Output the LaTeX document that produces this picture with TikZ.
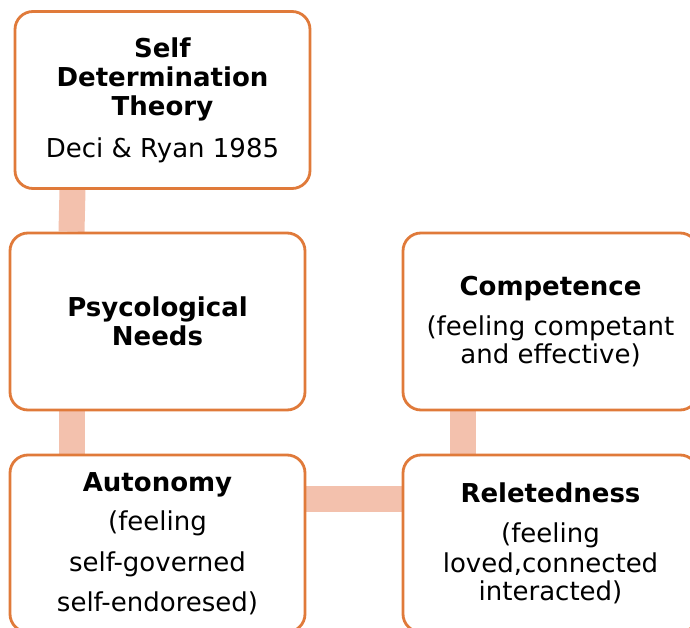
\documentclass[tikz,border=0pt]{standalone}
\usepackage{fontspec}
\setmainfont{DejaVu Sans}
\usetikzlibrary{backgrounds}

\definecolor{boxorange}{RGB}{224,122,58}
\definecolor{linkpeach}{RGB}{243,193,173}

\tikzset{
	box/.style={draw=boxorange, fill=white, line width=2.8pt, rounded corners=18pt,
		minimum width=295pt, minimum height=177pt, inner sep=0pt, align=center,
		font=\fontsize{26}{29}\selectfont},
	link/.style={draw=linkpeach, line width=26pt}
}

\begin{document}
\begin{tikzpicture}[x=1pt,y=-1pt]
	\useasboundingbox (0,0) rectangle (690,628);
	\clip (0,0) rectangle (690,628);

	% Draw boxes
	% Theory
	\node[box] (theory) at (162.5,100) {\textbf{Self}\\\textbf{Determination}\\\textbf{Theory}\\[13pt]Deci \& Ryan 1985};
	% Needs
	\node[box] (needs) at (157.5,321.5) {\textbf{Psycological}\\\textbf{Needs}};
	% Competence
	\node[box] (competence) at (550.5,321.5) {\textbf{Competence}\\[11pt](feeling competant\\[-1pt]and effective)};
	% Autonomy
	\node[box] (autonomy) at (157.5,543.5) {\textbf{Autonomy}\\[10pt](feeling\\[12pt]self-governed\\[11pt]self-endoresed)};
	% Reletedness
	\node[box] (relatedness) at (550.5,543.5) {\textbf{Reletedness}\\[11pt](feeling\\[1pt]loved,connected\\[-1pt]interacted)};

	% Draw links
	\begin{scope}[on background layer]
		\draw[link] ([xshift=-90pt]theory.south) -- ([xshift=-86pt]needs.north);
		\draw[link] ([xshift=-86pt]needs.south) -- ([xshift=-86pt]autonomy.north);
		\draw[link] ([yshift=45pt]autonomy.east) -- ([yshift=45pt]relatedness.west);
		\draw[link] ([xshift=-88pt]competence.south) -- ([xshift=-88pt]relatedness.north);
	\end{scope}

\end{tikzpicture}
\end{document}
